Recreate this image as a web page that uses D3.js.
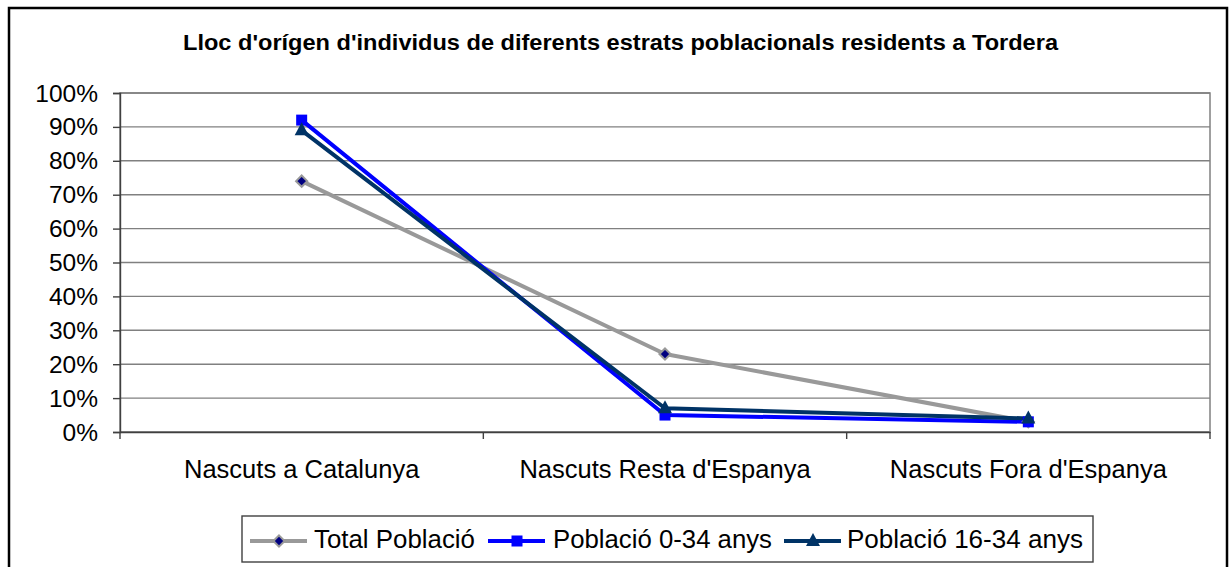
<!DOCTYPE html>
<html>
<head>
<meta charset="utf-8">
<script src="https://cdn.jsdelivr.net/npm/d3@7"></script>
<style>
  body { margin: 0; background: #fff; }
  svg { display: block; font-family: Arial, "Liberation Sans", sans-serif; }
</style>
</head>
<body>
<svg id="chart"></svg>
<script>
const categories = ["Nascuts a Catalunya", "Nascuts Resta d'Espanya", "Nascuts Fora d'Espanya"]
const totalPoblacio = [74, 23, 3]
const poblacio0_34 = [92, 5, 3]
const poblacio16_34 = [89, 7, 4]
const yTicks = [0, 10, 20, 30, 40, 50, 60, 70, 80, 90, 100]

const series = [
    { name: "Total Població", values: totalPoblacio, color: "#999999", marker: "diamond" },
    { name: "Població 0-34 anys", values: poblacio0_34, color: "#0000FF", marker: "square" },
    { name: "Població 16-34 anys", values: poblacio16_34, color: "#003366", marker: "triangle" }
]

const width = 1231
const height = 567
const margin = { top: 93, right: 21, bottom: 135, left: 120 }
const font = "Arial, 'Liberation Sans', sans-serif"

const svg = d3.select("#chart")
    .attr("width", width)
    .attr("height", height)
    .attr("viewBox", [0, 0, width, height])

// outer frame
svg.append("rect")
    .attr("x", 9).attr("y", 8)
    .attr("width", 1218).attr("height", 575)
    .attr("fill", "white").attr("stroke", "black").attr("stroke-width", 2.5)

svg.append("text")
    .attr("x", 183).attr("y", 50)
    .attr("font-weight", "bold")
    .attr("font-size", 22)
    .attr("textLength", 875)
    .attr("lengthAdjust", "spacingAndGlyphs")
    .text("Lloc d'orígen d'individus de diferents estrats poblacionals residents a Tordera")

const x = d3.scaleBand()
    .domain(categories)
    .range([margin.left, width - margin.right])

const y = d3.scaleLinear()
    .domain([0, 100])
    .range([height - margin.bottom, margin.top])

// plot area border
svg.append("rect")
    .attr("x", margin.left).attr("y", margin.top)
    .attr("width", width - margin.left - margin.right)
    .attr("height", height - margin.top - margin.bottom)
    .attr("fill", "none").attr("stroke", "#808080").attr("stroke-width", 1.5)

// gridlines
svg.append("g")
    .selectAll("line")
    .data(yTicks)
    .join("line")
    .attr("x1", margin.left).attr("x2", width - margin.right)
    .attr("y1", d => y(d)).attr("y2", d => y(d))
    .attr("stroke", "#808080").attr("stroke-width", 1.4)

// y axis
const yAxis = svg.append("g")
    .attr("transform", `translate(${margin.left},0)`)
    .call(d3.axisLeft(y).tickValues(yTicks).tickFormat(d => d + "%").tickSize(7).tickPadding(15))
yAxis.select(".domain").attr("stroke", "#404040").attr("stroke-width", 1.4)
yAxis.selectAll(".tick line").attr("stroke", "#404040").attr("stroke-width", 1.4)
yAxis.selectAll("text")
    .attr("font-size", 24.5).attr("fill", "black").attr("font-family", font)
    .attr("dy", "0.33em")

// x axis
const xAxis = svg.append("g")
    .attr("transform", `translate(0,${y(0)})`)
    .call(d3.axisBottom(x).tickSize(0).tickPadding(0))
xAxis.select(".domain").attr("stroke", "#404040").attr("stroke-width", 1.4)
xAxis.selectAll("text")
    .attr("font-size", 25.5).attr("fill", "black").attr("font-family", font)
    .attr("dy", null).attr("y", 46)

const bounds = [margin.left, ...categories.map(c => x(c) + x.bandwidth())]
xAxis.selectAll(".sep")
    .data(bounds)
    .join("line")
    .attr("x1", d => d).attr("x2", d => d)
    .attr("y1", 0).attr("y2", 7)
    .attr("stroke", "#404040").attr("stroke-width", 1.4)

const line = d3.line()
    .x((d, i) => x(categories[i]) + x.bandwidth() / 2)
    .y(d => y(d))

function drawMarker(g, type, color, cx, cy) {
    if (type === "diamond") {
        g.append("path")
            .attr("d", d3.symbol(d3.symbolDiamond2, 80)())
            .attr("transform", `translate(${cx},${cy})`)
            .attr("fill", "#000080").attr("stroke", "#999999").attr("stroke-width", 2)
    } else if (type === "square") {
        g.append("rect")
            .attr("x", cx - 5.5).attr("y", cy - 5.5)
            .attr("width", 11).attr("height", 11)
            .attr("fill", color)
    } else {
        g.append("path")
            .attr("d", `M${cx},${cy - 8}L${cx + 7},${cy + 5}L${cx - 7},${cy + 5}Z`)
            .attr("fill", color)
    }
}

series.forEach(s => {
    svg.append("path")
        .datum(s.values)
        .attr("d", line)
        .attr("fill", "none")
        .attr("stroke", s.color)
        .attr("stroke-width", 4)
        .attr("stroke-linejoin", "round")
})
series.forEach(s => {
    const g = svg.append("g")
    s.values.forEach((v, i) => drawMarker(g, s.marker, s.color, x(categories[i]) + x.bandwidth() / 2, y(v)))
})

// legend
svg.append("rect")
    .attr("x", 242).attr("y", 516)
    .attr("width", 851).attr("height", 46)
    .attr("fill", "white").attr("stroke", "#404040").attr("stroke-width", 1.4)
const legend = svg.append("g")

const legendLineX = [250, 488, 784]
const legendTextX = [314, 553, 847]
const legendTextW = [161, 219, 236]
series.forEach((s, i) => {
    const lx = legendLineX[i]
    const ly = 541
    legend.append("line")
        .attr("x1", lx).attr("x2", lx + 57)
        .attr("y1", ly).attr("y2", ly)
        .attr("stroke", s.color).attr("stroke-width", 4)
    drawMarker(legend, s.marker, s.color, lx + 29, ly)
    legend.append("text")
        .attr("x", legendTextX[i]).attr("y", 548)
        .attr("font-size", 26)
        .attr("textLength", legendTextW[i])
        .attr("lengthAdjust", "spacingAndGlyphs")
        .text(s.name)
})
</script>
</body>
</html>
